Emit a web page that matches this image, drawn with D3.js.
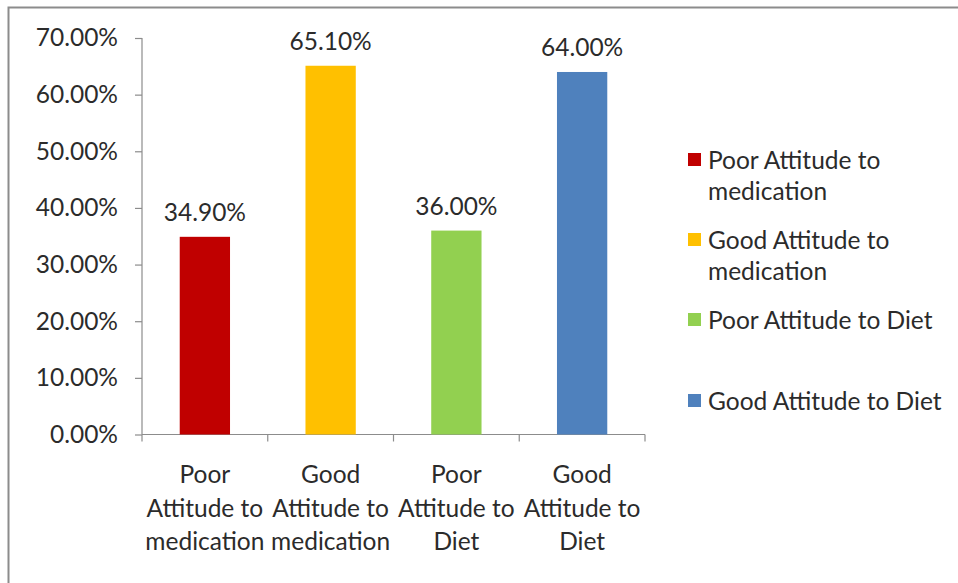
<!DOCTYPE html>
<html>
<head>
<meta charset="utf-8">
<script src="https://cdn.jsdelivr.net/npm/d3@7"></script>
<style>
  html, body { margin: 0; padding: 0; background: #fff; }
  svg { display: block; }
  text { font-family: Lato, "Open Sans", sans-serif; fill: #2b2b2b; }
</style>
</head>
<body>
<svg id="chart" width="958" height="583"></svg>
<script>
// Attitude categories and their shares
const categories = [
  "Poor Attitude to medication",
  "Good Attitude to medication",
  "Poor Attitude to Diet",
  "Good Attitude to Diet"
];
const values = [34.9, 65.1, 36.0, 64.0];
const colors = ["#C00000", "#FFC000", "#92D050", "#4F81BD"];
const axisLabelLines = [
  ["Poor", "Attitude to", "medication"],
  ["Good", "Attitude to", "medication"],
  ["Poor", "Attitude to", "Diet"],
  ["Good", "Attitude to", "Diet"]
];
const legendLines = [
  ["Poor Attitude to", "medication"],
  ["Good Attitude to", "medication"],
  ["Poor Attitude to Diet"],
  ["Good Attitude to Diet"]
];
const yTicks = [0, 10, 20, 30, 40, 50, 60, 70];

const FS = "24.5px";
const svg = d3.select("#chart");

// outer frame
svg.append("rect")
  .attr("x", 8.5).attr("y", 7.5)
  .attr("width", 1000).attr("height", 1000)
  .attr("fill", "#fff")
  .attr("stroke", "#8c8c8c").attr("stroke-width", 2);

const plot = { left: 142, right: 645, top: 38, bottom: 434.5 };

const x = d3.scaleBand()
  .domain(categories)
  .range([plot.left, plot.right])
  .paddingInner(0.6)
  .paddingOuter(0.3);

const y = d3.scaleLinear()
  .domain([0, 70])
  .range([plot.bottom, plot.top]);

const fmt = d => d.toFixed(2) + "%";

// y axis
const yAxis = svg.append("g")
  .attr("transform", `translate(${plot.left},0)`)
  .call(d3.axisLeft(y).tickValues(yTicks).tickFormat(fmt).tickSize(7).tickPadding(17));
yAxis.selectAll("path, line").attr("stroke", "#8c8c8c").attr("stroke-width", 1.2);
yAxis.select(".domain").attr("d", `M0,${plot.top}V${plot.bottom}`);
yAxis.selectAll("text")
  .style("font-family", "Lato, sans-serif")
  .style("font-size", FS)
  .attr("fill", "#2b2b2b");

// x axis: ticks at category boundaries
const xAxisG = svg.append("g").attr("transform", `translate(0,${plot.bottom})`);
const step = (plot.right - plot.left) / categories.length;
xAxisG.append("line")
  .attr("x1", plot.left).attr("x2", plot.right)
  .attr("stroke", "#8c8c8c").attr("stroke-width", 1.2);
xAxisG.selectAll("line.tick")
  .data(d3.range(categories.length + 1))
  .join("line")
  .attr("class", "tick")
  .attr("x1", i => plot.left + i * step).attr("x2", i => plot.left + i * step)
  .attr("y1", 0).attr("y2", 7)
  .attr("stroke", "#8c8c8c").attr("stroke-width", 1.2);

// category labels
categories.forEach((c, i) => {
  const t = svg.append("text")
    .attr("x", x(c) + x.bandwidth() / 2)
    .attr("y", 483)
    .attr("text-anchor", "middle")
    .style("font-size", FS);
  axisLabelLines[i].forEach((ln, j) => {
    t.append("tspan")
      .attr("x", x(c) + x.bandwidth() / 2)
      .attr("dy", j === 0 ? 0 : 33.5)
      .text(ln);
  });
});

// bars
svg.selectAll("rect.bar")
  .data(categories)
  .join("rect")
  .attr("class", "bar")
  .attr("x", d => x(d))
  .attr("width", x.bandwidth())
  .attr("y", (d, i) => y(values[i]))
  .attr("height", (d, i) => y(0) - y(values[i]))
  .attr("fill", (d, i) => colors[i]);

// value labels
svg.selectAll("text.val")
  .data(categories)
  .join("text")
  .attr("class", "val")
  .attr("x", d => x(d) + x.bandwidth() / 2)
  .attr("y", (d, i) => y(values[i]) - 16)
  .attr("text-anchor", "middle")
  .style("font-size", FS)
  .text((d, i) => fmt(values[i]));

// legend
const legendY = [160, 240, 320, 401];
categories.forEach((c, i) => {
  const g = svg.append("g").attr("transform", `translate(688,${legendY[i]})`);
  g.append("rect")
    .attr("x", 0).attr("y", -7)
    .attr("width", 13).attr("height", 13)
    .attr("fill", colors[i]);
  const t = g.append("text")
    .attr("x", 20).attr("y", 9)
    .style("font-size", FS);
  legendLines[i].forEach((ln, j) => {
    t.append("tspan").attr("x", 20).attr("dy", j === 0 ? 0 : 31).text(ln);
  });
});
</script>
</body>
</html>
